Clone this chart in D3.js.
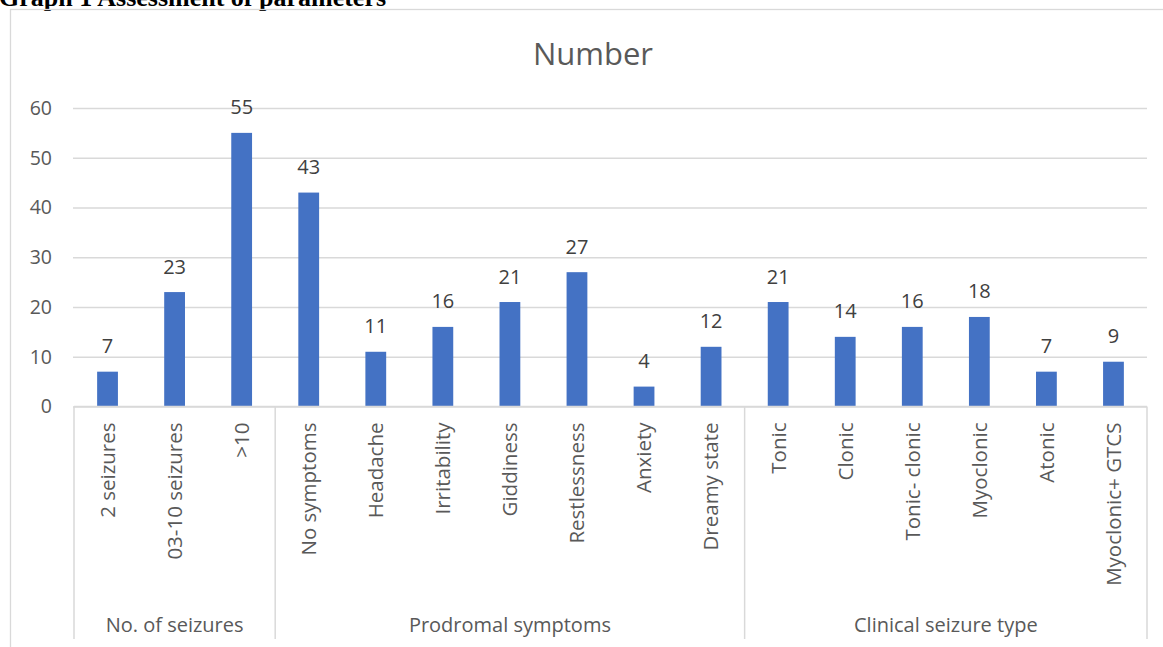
<!DOCTYPE html>
<html>
<head>
<meta charset="utf-8">
<script src="https://cdn.jsdelivr.net/npm/d3@7"></script>
<style>
  html, body { margin: 0; padding: 0; background: #fff; overflow: hidden; }
  svg { display: block; }
</style>
</head>
<body>
<svg id="chart" width="1163" height="647"></svg>
<script>
// Categories, their groups and the counts per category
const categories = [
  "2 seizures", "03-10 seizures", ">10",
  "No symptoms", "Headache", "Irritability", "Giddiness", "Restlessness", "Anxiety", "Dreamy state",
  "Tonic", "Clonic", "Tonic- clonic", "Myoclonic", "Atonic", "Myoclonic+ GTCS"
];
const groups = ["No. of seizures", "Prodromal symptoms", "Clinical seizure type"];
const groupSizes = [3, 7, 6];
const values = [7, 23, 55, 43, 11, 16, 21, 27, 4, 12, 21, 14, 16, 18, 7, 9];
const yTicks = [0, 10, 20, 30, 40, 50, 60];

const svg = d3.select("#chart");
const FONT = "'Open Sans', sans-serif";
const GRID = "#d9d9d9";

const plot = { left: 74, right: 1147, top: 108, bottom: 406.5 };
const catAxisBottom = 639;

const x = d3.scaleBand().domain(categories).range([plot.left, plot.right]).padding(0);
const y = d3.scaleLinear().domain([0, 60]).range([plot.bottom, plot.top]);
const barW = x.step() * 0.31;

// Heading above the chart frame
svg.append("text")
  .attr("x", -1).attr("y", 6)
  .attr("font-family", "'Liberation Serif', 'Times New Roman', serif")
  .attr("font-weight", "bold")
  .attr("font-size", 26)
  .attr("fill", "#000")
  .text("Graph 1 Assessment of parameters");

// Chart frame
svg.append("rect")
  .attr("x", 10.5).attr("y", 9.5)
  .attr("width", 1170).attr("height", 660)
  .attr("fill", "none").attr("stroke", GRID).attr("stroke-width", 1.3);

// Chart title
svg.append("text")
  .attr("x", 593).attr("y", 65)
  .attr("text-anchor", "middle")
  .attr("font-family", FONT).attr("font-size", 31)
  .attr("fill", "#595959")
  .text("Number");

// Horizontal gridlines and value axis labels
const yAxis = d3.axisLeft(y).tickValues(yTicks).tickSize(-(plot.right - plot.left + 1)).tickPadding(21);
const gy = svg.append("g").attr("transform", `translate(${plot.left - 1},0)`).call(yAxis);
gy.select(".domain").remove();
gy.selectAll(".tick line").attr("stroke", GRID).attr("stroke-width", 1.3);
gy.selectAll(".tick text")
  .attr("font-family", FONT).attr("font-size", 19.5)
  .attr("fill", "#595959");

// Bars
svg.append("g").selectAll("rect")
  .data(values)
  .join("rect")
  .attr("x", (d, i) => x(categories[i]) + x.bandwidth() / 2 - barW / 2)
  .attr("y", d => y(d))
  .attr("width", barW)
  .attr("height", d => y(0) - y(d))
  .attr("fill", "#4472c4");

// Value labels
svg.append("g").selectAll("text")
  .data(values)
  .join("text")
  .attr("x", (d, i) => x(categories[i]) + x.bandwidth() / 2)
  .attr("y", d => y(d) - 18.5)
  .attr("text-anchor", "middle")
  .attr("font-family", FONT).attr("font-size", 20)
  .attr("fill", "#404040")
  .text(d => d);

// Category axis line
svg.append("line")
  .attr("x1", plot.left).attr("x2", plot.right)
  .attr("y1", y(0)).attr("y2", y(0))
  .attr("stroke", GRID).attr("stroke-width", 1.5);

// Rotated category labels
svg.append("g").selectAll("text")
  .data(categories)
  .join("text")
  .attr("transform", d => `translate(${x(d) + x.bandwidth() / 2},${y(0) + 16}) rotate(-90)`)
  .attr("text-anchor", "end")
  .attr("dy", "0.36em")
  .attr("font-family", FONT).attr("font-size", 20.5)
  .attr("fill", "#595959")
  .text(d => d);

// Group boundaries and group labels
const bounds = [0];
groupSizes.forEach(n => bounds.push(bounds[bounds.length - 1] + n));
const boundX = k => k < categories.length ? x(categories[k]) : plot.right;

svg.append("g").selectAll("line")
  .data(bounds)
  .join("line")
  .attr("x1", k => boundX(k)).attr("x2", k => boundX(k))
  .attr("y1", y(0)).attr("y2", catAxisBottom)
  .attr("stroke", GRID).attr("stroke-width", 1.5);

svg.append("g").selectAll("text")
  .data(groups)
  .join("text")
  .attr("x", (g, i) => (boundX(bounds[i]) + boundX(bounds[i + 1])) / 2)
  .attr("y", 632)
  .attr("text-anchor", "middle")
  .attr("font-family", FONT).attr("font-size", 20)
  .attr("fill", "#595959")
  .text(g => g);
</script>
</body>
</html>
